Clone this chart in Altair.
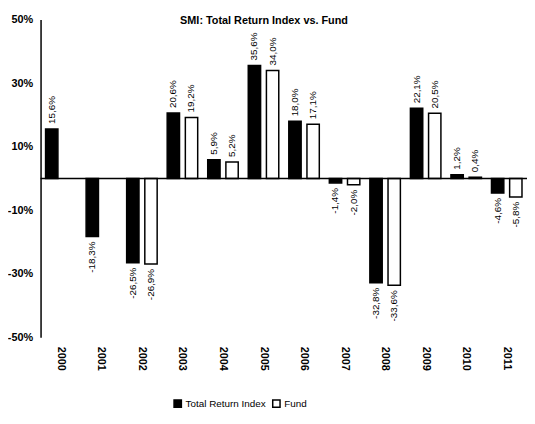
import altair as alt
import pandas as pd

years = ["2000", "2001", "2002", "2003", "2004", "2005", "2006", "2007", "2008", "2009", "2010", "2011"]
total_return_index = [15.6, -18.3, -26.5, 20.6, 5.9, 35.6, 18.0, -1.4, -32.8, 22.1, 1.2, -4.6]
fund = [None, None, -26.9, 19.2, 5.2, 34.0, 17.1, -2.0, -33.6, 20.5, 0.4, -5.8]
series_names = ["Total Return Index", "Fund"]
y_ticks = [-50, -30, -10, 10, 30, 50]

rows = []
for i, y in enumerate(years):
    for name, vals in zip(series_names, [total_return_index, fund]):
        v = vals[i]
        if v is None:
            continue
        rows.append({"year": y, "series": name, "value": v,
                     "label": f"{v:.1f}".replace(".", ",") + "%"})
df = pd.DataFrame(rows)

FONT = "Liberation Sans"

x_enc = alt.X("year:N", sort=years, title=None,
              scale=alt.Scale(paddingInner=0, paddingOuter=0),
              axis=alt.Axis(labelAngle=90, labelFontWeight="bold", labelFontSize=11,
                            labelFont=FONT, labelColor="black", domain=False, ticks=False,
                            labelPadding=9))
xo_enc = alt.XOffset("series:N", sort=series_names,
                     scale=alt.Scale(paddingInner=0.32, paddingOuter=0.276))
y_enc = alt.Y("value:Q", title=None,
              scale=alt.Scale(domain=[-50, 50], nice=False, zero=False),
              axis=alt.Axis(values=y_ticks, labelExpr="datum.value + '%'", grid=False,
                            ticks=False, domainColor="black", domainWidth=1.5,
                            labelFontWeight="bold", labelFontSize=11, labelFont=FONT,
                            labelColor="black", labelPadding=8))

base = alt.Chart(df)

bars = base.mark_bar(stroke="black", strokeWidth=1.5).encode(
    x=x_enc, xOffset=xo_enc, y=y_enc,
    color=alt.Color("series:N", sort=series_names,
                    scale=alt.Scale(domain=series_names, range=["black", "white"]),
                    legend=alt.Legend(title=None, orient="none", legendX=134, legendY=384,
                                      direction="horizontal", symbolType="square",
                                      symbolSize=55, symbolStrokeColor="black",
                                      symbolStrokeWidth=1.5, labelFontSize=10,
                                      labelFont=FONT, labelColor="black",
                                      columnPadding=3, labelOffset=3))
)

pos_labels = base.transform_filter("datum.value >= 0").mark_text(
    angle=270, align="left", baseline="middle", dx=5, fontSize=10, font=FONT, color="black"
).encode(x=x_enc, xOffset=xo_enc, y=y_enc, text="label:N")

neg_labels = base.transform_filter("datum.value < 0").mark_text(
    angle=270, align="right", baseline="middle", dx=-5, fontSize=10, font=FONT, color="black"
).encode(x=x_enc, xOffset=xo_enc, y=y_enc, text="label:N")

zero = alt.Chart(pd.DataFrame({"v": [0]})).mark_rule(color="black", strokeWidth=1.5).encode(
    y=alt.Y("v:Q", scale=alt.Scale(domain=[-50, 50], nice=False, zero=False)),
    x=alt.value(0), x2=alt.value(494)
)

chart = alt.layer(bars, zero, pos_labels, neg_labels).properties(
    width=493, height=322,
    title=alt.TitleParams("SMI: Total Return Index vs. Fund", font=FONT, fontSize=11,
                          fontWeight="bold", color="black", anchor="middle",
                          dx=-20, dy=12, offset=0),
    autosize=alt.AutoSizeParams(type="none"),
    padding={"left": 33, "top": 9, "right": 0, "bottom": 82},
).configure_view(stroke=None)

chart.save("out.html", embed_options={"renderer": "svg", "actions": False})
